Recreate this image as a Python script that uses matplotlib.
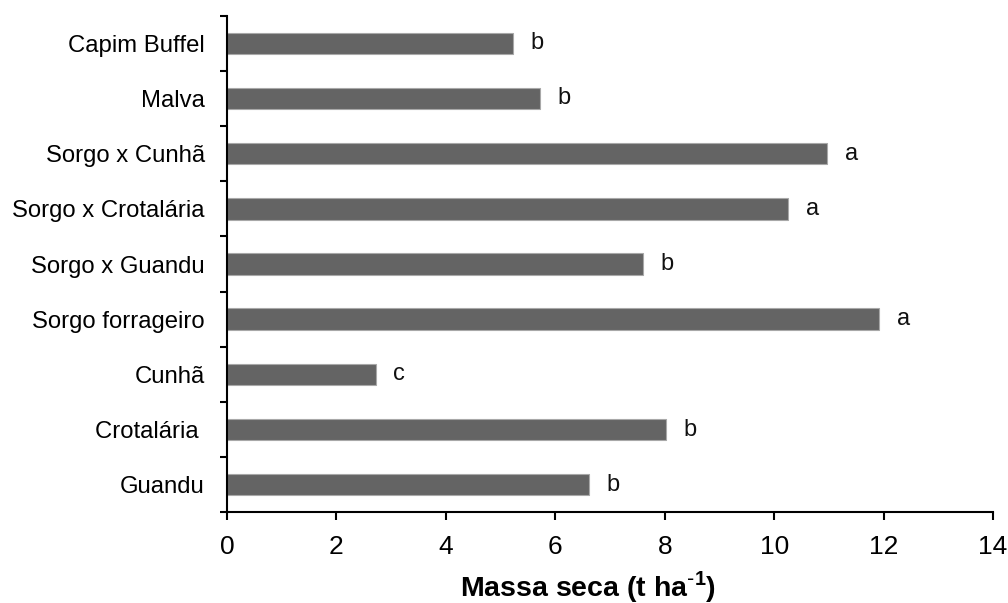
import matplotlib
matplotlib.use("Agg")
import matplotlib.pyplot as plt
from matplotlib import font_manager
import numpy as np

categories = ["Guandu", "Crotalária ", "Cunhã", "Sorgo forrageiro", "Sorgo x Guandu",
              "Sorgo x Crotalária", "Sorgo x Cunhã", "Malva", "Capim Buffel"]
values = [6.62, 8.03, 2.72, 11.92, 7.61, 10.26, 10.97, 5.72, 5.23]
letters = ["b", "b", "c", "a", "b", "a", "a", "b", "b"]
xticks = [0, 2, 4, 6, 8, 10, 12, 14]

plt.rcParams['font.family'] = ['Liberation Sans', 'DejaVu Sans']

fig = plt.figure(figsize=(10.08, 6.03), dpi=100)
ax = fig.add_axes([227/1008, 1 - 512.3/603, (993-227)/1008, (512.3-15.7)/603])

y = np.arange(len(categories))
ax.barh(y, values, height=0.39, color='#646464', edgecolor='#a8a8a8', linewidth=0.8, zorder=2)

for yi, v, l in zip(y, values, letters):
    ax.annotate(l, xy=(v, yi), xytext=(12.5, 0), textcoords='offset points',
                ha='left', va='center', fontsize=17, color='#111111')

ax.set_xlim(0, 14)
ax.set_ylim(-0.5, len(categories) - 0.5)
ax.set_xticks(xticks)
ax.set_xticklabels([str(t) for t in xticks], fontsize=19)
ax.set_yticks(y)
ax.set_yticklabels(categories, fontsize=17.2)
ax.set_yticks(np.arange(-0.5, len(categories)), minor=True)
ax.tick_params(axis='y', which='major', length=0, pad=16)
ax.tick_params(axis='y', which='minor', length=5, width=1.5, direction='out')
ax.tick_params(axis='x', which='major', length=5.5, width=1.5, direction='out', pad=11)

for s in ['top', 'right']:
    ax.spines[s].set_visible(False)
for s in ['left', 'bottom']:
    ax.spines[s].set_linewidth(1.5)
    ax.spines[s].set_color('black')

ax.set_xlabel("Massa seca (t ha$^{\\mathregular{\\text{-}1}}$)", fontsize=20.5,
              fontweight='bold')
ax.xaxis.set_label_coords((588 - 227) / 766, -(569 - 512.3) / 496.6, transform=ax.transAxes)
ax.xaxis.label.set_va('top')

fig.savefig("out.png", dpi=100)
